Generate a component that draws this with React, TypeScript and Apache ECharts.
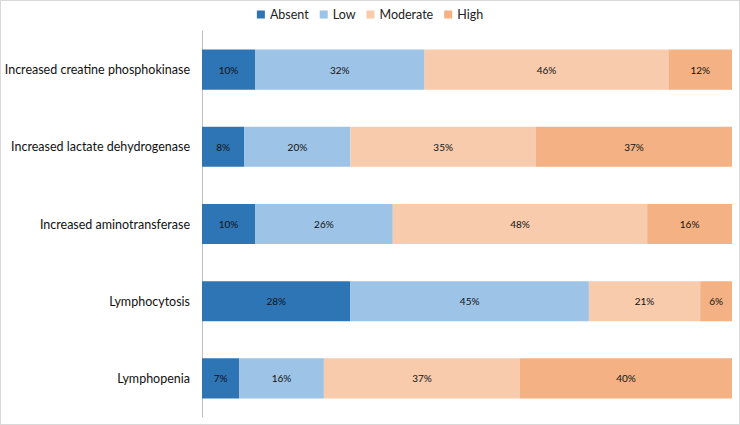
import React, { useEffect, useRef } from "react";
import * as echarts from "echarts";

const categories = [
  "Increased creatine phosphokinase",
  "Increased lactate dehydrogenase",
  "Increased aminotransferase",
  "Lymphocytosis",
  "Lymphopenia",
];
const absent = [10, 8, 10, 28, 7];
const low = [32, 20, 26, 45, 16];
const moderate = [46, 35, 48, 21, 37];
const high = [12, 37, 16, 6, 40];
const seriesNames = ["Absent", "Low", "Moderate", "High"];
const colors = ["#2E75B6", "#9DC3E6", "#F8CBAD", "#F4B183"];

export default function App() {
  const ref = useRef<HTMLDivElement>(null);
  useEffect(() => {
    if (!ref.current) return;
    const chart = echarts.init(ref.current, undefined, { renderer: "svg" });
    const font = "Lato, 'Open Sans', sans-serif";
    const data = [absent, low, moderate, high];
    chart.setOption({
      animation: false,
      textStyle: { fontFamily: font },
      legend: {
        top: 2,
        left: "center",
        itemWidth: 8,
        itemHeight: 8,
        itemGap: 11,
        icon: "rect",
        textStyle: { fontSize: 12.5, color: "#222", fontFamily: font },
        data: seriesNames,
      },
      grid: { left: 201, right: 7, top: 30, bottom: 7, containLabel: false },
      xAxis: {
        type: "value",
        min: 0,
        max: 100,
        show: false,
      },
      yAxis: {
        type: "category",
        inverse: true,
        data: categories,
        axisLine: { show: true, lineStyle: { color: "#BFBFBF", width: 1 } },
        axisTick: { show: false },
        axisLabel: { fontSize: 12.5, color: "#111", margin: 12, fontFamily: font },
      },
      series: seriesNames.map((name, i) => ({
        name,
        type: "bar",
        stack: "total",
        barWidth: "52%",
        itemStyle: { color: colors[i] },
        label: {
          show: true,
          position: "inside",
          formatter: "{c}%",
          fontSize: 10,
          color: "#111",
          fontFamily: font,
        },
        data: data[i],
      })),
    });
    return () => chart.dispose();
  }, []);
  return (
    <div
      ref={ref}
      style={{
        width: 740,
        height: 425,
        position: "absolute",
        left: 0,
        top: 0,
        boxSizing: "border-box",
        border: "1px solid #D9D9D9",
        background: "#fff",
      }}
    />
  );
}
